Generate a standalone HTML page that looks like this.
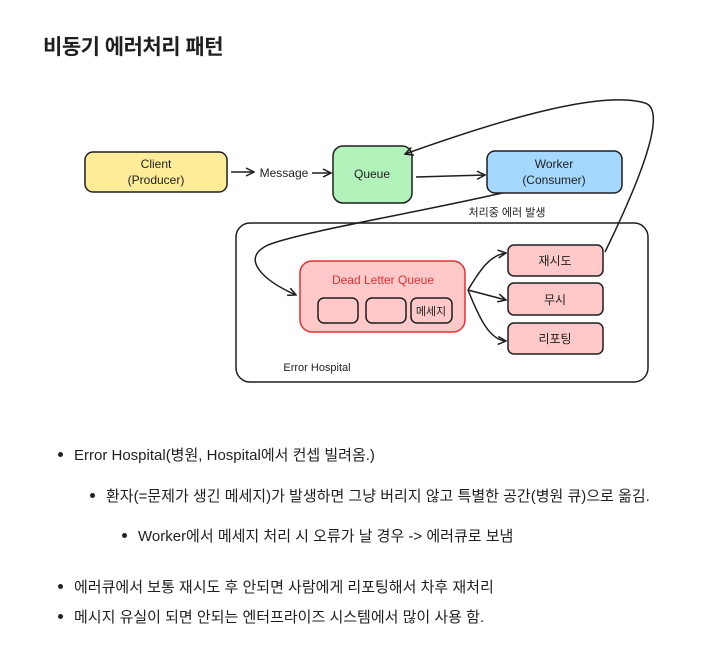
<!DOCTYPE html>
<html><head><meta charset="utf-8"><style>
body{margin:0;background:#fff;width:717px;height:649px;position:relative;overflow:hidden;font-family:"Liberation Sans","Noto Sans CJK KR",sans-serif;color:#1f1f1f}
h1{position:absolute;left:43px;top:31px;margin:0;font-size:21px;font-weight:bold;letter-spacing:-0.5px}
.li{position:absolute;font-size:15px;white-space:nowrap}
.li:before{content:"";position:absolute;left:-16px;top:8px;width:5px;height:5px;border-radius:50%;background:#222}
svg text{font-family:"Liberation Sans","Noto Sans CJK KR",sans-serif}
</style></head><body>
<h1>비동기 에러처리 패턴</h1>
<svg width="717" height="649" style="position:absolute;left:0;top:0">
<defs><marker id="a" markerWidth="10" markerHeight="10" refX="9" refY="5" orient="auto" markerUnits="userSpaceOnUse"><path d="M1,1 L9,5 L1,9" fill="none" stroke="#1e1e1e" stroke-width="1.5"/></marker></defs>
<g stroke="#1e1e1e" stroke-width="1.5">
<rect x="85" y="152" width="142" height="40" rx="8" fill="#ffec99"/>
<rect x="333" y="146" width="79" height="57" rx="10" fill="#b2f2bb"/>
<rect x="487" y="151" width="135" height="42" rx="8" fill="#a5d8ff"/>
<rect x="236" y="223" width="412" height="159" rx="14" fill="none"/>
<rect x="300" y="261" width="165" height="71" rx="12" fill="#ffc9c9" stroke="#e03131"/>
<rect x="318" y="298" width="40" height="25" rx="6" fill="#ffc9c9"/>
<rect x="366" y="298" width="40" height="25" rx="6" fill="#ffc9c9"/>
<rect x="411" y="298" width="41" height="25" rx="6" fill="#ffc9c9"/>
<rect x="508" y="245" width="95" height="31" rx="6" fill="#ffc9c9"/>
<rect x="508" y="283" width="95" height="32" rx="6" fill="#ffc9c9"/>
<rect x="508" y="323" width="95" height="31" rx="6" fill="#ffc9c9"/>
<g fill="none" marker-end="url(#a)">
<path d="M231,172 L254,172"  marker-end=""/>
<path d="M312,173 L331,173"/>
<path d="M416,177 L485,175"/>
<path d="M502,193 C420,212 300,232 268,245 C240,258 262,280 296,295"/>
<path d="M605,252 C640,180 668,110 645,103 C600,90 500,120 405,154"/>
<path d="M468,290 C480,270 490,255 506,253"/>
<path d="M468,290 L506,300"/>
<path d="M468,290 C480,320 490,340 506,341"/>
</g></g>
<g font-size="12" fill="#1e1e1e" text-anchor="middle">
<text x="156" y="168">Client</text><text x="156" y="184">(Producer)</text>
<text x="284" y="177">Message</text>
<text x="372" y="178">Queue</text>
<text x="554" y="168">Worker</text><text x="554" y="184">(Consumer)</text>
<text x="507" y="216" font-size="11">처리중 에러 발생</text>
<text x="383" y="284" fill="#e03131">Dead Letter Queue</text>
<text x="431" y="315" font-size="11">메세지</text>
<text x="555" y="265">재시도</text>
<text x="555" y="304">무시</text>
<text x="555" y="343">리포팅</text>
<text x="317" y="371" font-size="11">Error Hospital</text>
</g></svg>
<div class="li" style="left:74px;top:444px">Error Hospital(병원, Hospital에서 컨셉 빌려옴.)</div>
<div class="li" style="left:106px;top:485px">환자(=문제가 생긴 메세지)가 발생하면 그냥 버리지 않고 특별한 공간(병원 큐)으로 옮김.</div>
<div class="li" style="left:138px;top:525px">Worker에서 메세지 처리 시 오류가 날 경우 -&gt; 에러큐로 보냄</div>
<div class="li" style="left:74px;top:576px">에러큐에서 보통 재시도 후 안되면 사람에게 리포팅해서 차후 재처리</div>
<div class="li" style="left:74px;top:606px">메시지 유실이 되면 안되는 엔터프라이즈 시스템에서 많이 사용 함.</div>
</body></html>
